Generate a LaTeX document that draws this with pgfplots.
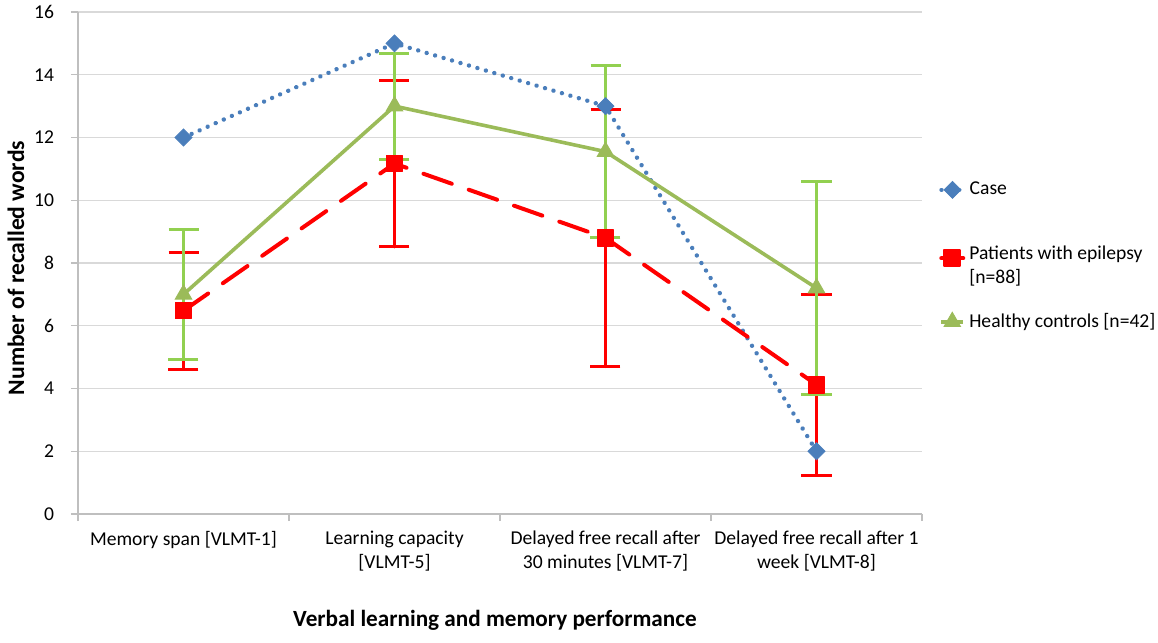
\documentclass[border=0pt]{standalone}
\usepackage{fontspec}
\setmainfont{Carlito}
\usepackage{pgfplots}
\pgfplotsset{compat=1.18}
\definecolor{caseblue}{HTML}{4A7EBB}
\definecolor{patred}{HTML}{FF0000}
\definecolor{ctrlgreen}{HTML}{9BBB59}
\definecolor{errgreen}{HTML}{92D050}
\definecolor{gridgray}{HTML}{D9D9D9}
\definecolor{axgray}{HTML}{BFBFBF}
\pgfplotsset{
  casestyle/.style={caseblue, line width=2.2pt, dash pattern=on 0.01pt off 4.4pt, line cap=round,
    mark=square*, mark size=3pt, mark options={solid, rotate=45, fill=caseblue, draw=caseblue, line width=0.4pt}},
  mylegend/.style={draw=none, fill=none, font=\fontsize{9.8}{12}\selectfont, row sep=15.5pt, inner sep=0pt},
  mylegimg/.style={legend image code/.code={\draw[##1,mark repeat=2,mark phase=2] plot coordinates {(0pt,0pt) (5.5pt,0pt) (11pt,0pt)};}},
}
\begin{document}
\fontsize{9.8}{12}\selectfont
\begin{tikzpicture}
\useasboundingbox (0,0) rectangle (579pt,321.5pt);
\begin{axis}[
  at={(39pt,64.5pt)}, anchor=south west,
  width=422pt, height=251pt, scale only axis,
  xmin=-0.5, xmax=3.5, ymin=0, ymax=16,
  ytick={0,2,...,16},
  xtick={-0.5,0.5,1.5,2.5,3.5},
  xticklabels={},
  extra x ticks={0,1,2,3},
  extra x tick labels={Memory span [VLMT-1],{Learning capacity\\{}[VLMT-5]},{Delayed free recall after\\30 minutes [VLMT-7]},{Delayed free recall after 1\\week [VLMT-8]}},
  extra x tick style={major tick length=0pt},
  x tick label style={align=center, font=\fontsize{9.8}{12}\selectfont, yshift=-5pt},
  y tick label style={font=\fontsize{9.8}{12}\selectfont, xshift=-5pt},
  /pgf/number format/assume math mode=true,
  ymajorgrids, grid style={gridgray, line width=0.7pt},
  axis x line*=bottom, axis y line*=left,
  axis line style={axgray, line width=0.7pt},
  tick style={axgray, line width=0.6pt},
  tick align=outside, major tick length=3.5pt,
  clip=false,
  legend style={mylegend, at={(1.02,0.550)}, anchor=north west},
  legend cell align=left,
  mylegimg,
  error bars/y dir=both, error bars/y explicit,
]
\addplot[casestyle, error bars/y dir=none, forget plot]
  coordinates {(0,12) (1,15) (2,13) (3,2)};
\addplot[patred, line width=2pt, dash pattern=on 15pt off 9pt, line cap=round,
  mark=square*, mark size=4pt, mark options={solid, fill=patred, line join=round, line width=0.8pt},
  error bars/error bar style={patred, line width=1.5pt, solid},
  error bars/error mark options={rotate=90, mark size=7.5pt, patred, line width=1.5pt}]
  coordinates {(0,6.48) +- (0,1.87) (1,11.17) +- (0,2.66) (2,8.8) +- (0,4.1) (3,4.12) +- (0,2.88)};
\addlegendentry{\begin{tabular}{@{}l@{}}Patients with epilepsy\\{}[n=88]\end{tabular}}
\addplot[ctrlgreen, line width=1.8pt, solid,
  mark=triangle*, mark size=4.8pt, mark options={solid, fill=ctrlgreen, draw=ctrlgreen, line width=0.4pt},
  error bars/error bar style={errgreen, line width=1.5pt, solid},
  error bars/error mark options={rotate=90, mark size=7.5pt, errgreen, line width=1.5pt}]
  coordinates {(0,7.0) +- (0,2.07) (1,13.0) +- (0,1.69) (2,11.55) +- (0,2.73) (3,7.2) +- (0,3.4)};
\addlegendentry{Healthy controls [n=42]}
\end{axis}
\begin{axis}[
  at={(39pt,64.5pt)}, anchor=south west,
  width=422pt, height=251pt, scale only axis,
  xmin=0, xmax=1, ymin=0, ymax=1, hide axis,
  legend style={mylegend, at={(1.02,0.67)}, anchor=north west},
  legend cell align=left,
  mylegimg,
]
\addlegendimage{casestyle}
\addlegendentry{Case}
\end{axis}
\node[rotate=90, font=\bfseries\fontsize{11.8}{14}\selectfont] at (8pt,187.5pt) {Number of recalled words};
\node[font=\bfseries\fontsize{11.6}{14}\selectfont] at (247.5pt,11.5pt) {Verbal learning and memory performance};
\end{tikzpicture}
\end{document}
